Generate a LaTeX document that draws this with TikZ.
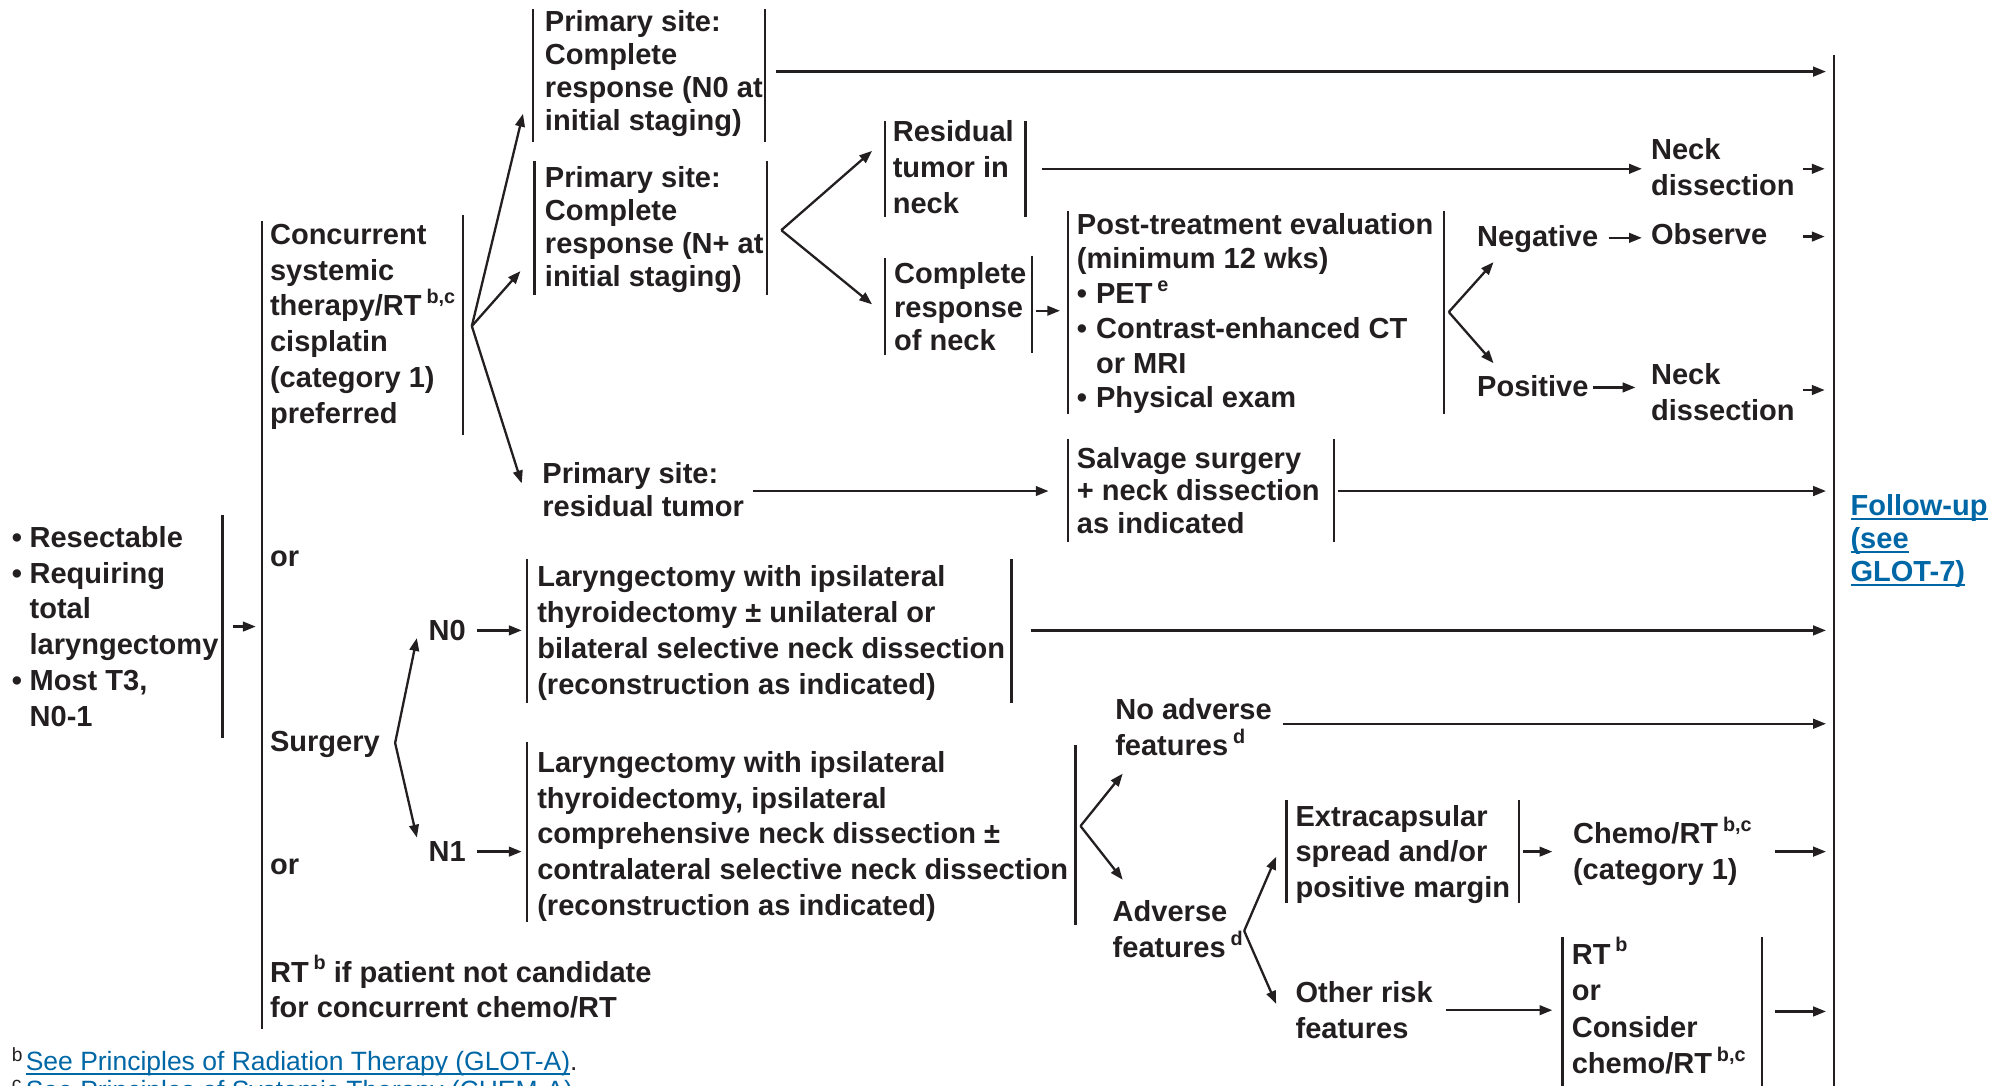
\documentclass[tikz,border=0pt]{standalone}
\usepackage{fontspec}
\setmainfont{Liberation Sans}
\usetikzlibrary{arrows.meta}
\definecolor{ink}{HTML}{231F20}
\definecolor{linkblue}{RGB}{0,103,166}
% raised footnote marks (no extra line height)
\newcommand\sups[1]{\,\raisebox{0.42em}[0pt][0pt]{\fontsize{15.5}{15.5}\selectfont #1}}
% bullet and hanging indent
\newcommand\bul{\makebox[14pt][l]{\textbullet}}
\newcommand\ind{\hspace*{14pt}}
% stacked lines, baseline on the first line
\newcommand\ml[1]{\begin{tabular}[t]{@{}l@{}}#1\end{tabular}}
% thick underline for links
\newcommand\lnkline[1]{\setbox0\hbox{#1}\rlap{\rule[-3.5pt]{\wd0}{1.6pt}}\box0}

\begin{document}
\begin{tikzpicture}[x=1pt,y=-1pt,
  txt/.style={anchor=base west, inner sep=0pt, text=ink,
    font=\fontsize{22.7}{28}\selectfont\bfseries},
  ls/.style={font=\fontsize{22.7}{#1}\selectfont\bfseries},
  lnk/.style={txt, text=linkblue},
  fnote/.style={txt, font=\fontsize{20.7}{24}\selectfont},
  bar/.style={draw=ink, line width=1.8pt},
  arr/.style={draw=ink, line width=1.8pt, -{Triangle[length=10pt,width=7.5pt]}}]
\useasboundingbox (0,0) rectangle (1568,849);

% ---------- text blocks ----------
\node[txt] (lft) at (9,428) {\ml{\bul Resectable\\\bul Requiring\\\ind total\\\ind laryngectomy\\\bul Most T3,\\\ind N0-1}};
\node[txt] (conc) at (211,191) {\ml{Concurrent\\systemic\\therapy/RT\sups{b,c}\\cisplatin\\(category 1)\\preferred}};
\node[txt] (or1) at (211,443) {or};
\node[txt] (surg) at (211,588) {Surgery};
\node[txt] (or2) at (211,684) {or};
\node[txt] (rtonly) at (211,768) {\ml{RT\sups{b} if patient not candidate\\for concurrent chemo/RT}};

\node[txt,ls=25.7] (pcr0) at (426,25) {\ml{Primary site:\\Complete\\response (N0 at\\initial staging)}};
\node[txt,ls=25.7] (pcrn) at (426,147) {\ml{Primary site:\\Complete\\response (N+ at\\initial staging)}};
\node[txt,ls=26] (pres) at (424,378) {\ml{Primary site:\\residual tumor}};

\node[txt] (rneck) at (698,111) {\ml{Residual\\tumor in\\neck}};
\node[txt,ls=26] (cneck) at (699,222) {\ml{Complete\\response\\of neck}};
\node[txt,ls=27.2] (eval) at (842,183) {\ml{Post-treatment evaluation\\(minimum 12 wks)\\\makebox[15pt][l]{\textbullet}PET\sups{e}\\\makebox[15pt][l]{\textbullet}Contrast-enhanced CT\\\hspace*{15pt}or MRI\\\makebox[15pt][l]{\textbullet}Physical exam}};
\node[txt,ls=25.5] (salv) at (842,366) {\ml{Salvage surgery\\+ neck dissection\\as indicated}};

\node[txt] (nd1) at (1291,125) {\ml{Neck\\dissection}};
\node[txt] (neg) at (1155,193) {Negative};
\node[txt] (obs) at (1291,191) {Observe};
\node[txt] (pos) at (1155,310) {Positive};
\node[txt] (nd2) at (1291,301) {\ml{Neck\\dissection}};

\node[txt] (n0) at (335,501) {N0};
\node[txt] (n1) at (335,674) {N1};
\node[txt] (lar0) at (420,459) {\ml{Laryngectomy with ipsilateral\\thyroidectomy \textpm{} unilateral or\\bilateral selective neck dissection\\(reconstruction as indicated)}};
\node[txt] (lar1) at (420,604) {\ml{Laryngectomy with ipsilateral\\thyroidectomy, ipsilateral\\comprehensive neck dissection \textpm\\contralateral selective neck dissection\\(reconstruction as indicated)}};

\node[txt] (noadv) at (872,563) {\ml{No adverse\\features\sups{d}}};
\node[txt] (adv) at (870,721) {\ml{Adverse\\features\sups{d}}};
\node[txt] (ece) at (1013,646) {\ml{Extracapsular\\spread and/or\\positive margin}};
\node[txt] (crt) at (1230,660) {\ml{Chemo/RT\sups{b,c}\\(category 1)}};
\node[txt] (orf) at (1013,784) {\ml{Other risk\\features}};
\node[txt,ls=28.5] (rtopt) at (1229,754) {\ml{RT\sups{b}\\or\\Consider\\chemo/RT\sups{b,c}}};

\node[lnk,ls=26] (fu) at (1447,403) {\ml{\lnkline{Follow-up}\\\lnkline{(see}\\\lnkline{GLOT-7)}}};

% footnotes
\node[fnote] (fnb) at (9,837)
  {\makebox[11pt][l]{\raisebox{7pt}{\fontsize{15}{15}\selectfont b}}\textcolor{linkblue}{\lnkline{See Principles of Radiation Therapy (GLOT-A)}}.};
\node[fnote] (fnc) at (9,860)
  {\makebox[11pt][l]{\raisebox{7pt}{\fontsize{15}{15}\selectfont c}}\textcolor{linkblue}{\lnkline{See Principles of Systemic Therapy (CHEM-A)}}.};

% ---------- bracket bars ----------
\draw[bar] (174,403) -- (174,577);
\draw[bar] (205,173) -- (205,805);
\draw[bar] (362,168) -- (362,340);
\draw[bar] (417,7) -- (417,111)  (598,7) -- (598,111);
\draw[bar] (418,126) -- (418,231)  (600,126) -- (600,231);
\draw[bar] (692,95) -- (692,170)  (802,95) -- (802,170);
\draw[bar] (692,202) -- (692,278)  (807,200) -- (807,276);
\draw[bar] (835,165) -- (835,324)  (1129,165) -- (1129,324);
\draw[bar] (835,343) -- (835,424)  (1043,343) -- (1043,424);
\draw[bar] (412,437) -- (412,550)  (791,437) -- (791,550);
\draw[bar] (412,580) -- (412,721)  (841,583) -- (841,723);
\draw[bar] (1006,626) -- (1006,706)  (1188,626) -- (1188,706);
\draw[bar] (1222,733) -- (1222,852)  (1378,733) -- (1378,852);
\draw[bar] (1434,43) -- (1434,852);

% ---------- connector end points ----------
\coordinate (lftO) at (182,490);   \coordinate (lftI) at (200,490);
\coordinate (cF) at (369,255);
\coordinate (cT0) at (409,89);  \coordinate (cT1) at (407,212);  \coordinate (cT2) at (408,378);
\coordinate (p0O) at (607,56);   \coordinate (p0I) at (1428,56);
\coordinate (pnF) at (611,180);
\coordinate (pnT0) at (682,118); \coordinate (pnT1) at (682,238);
\coordinate (rnO) at (815,132);  \coordinate (rnI) at (1284,132);
\coordinate (nd1O) at (1410,132); \coordinate (nd1I) at (1427,132);
\coordinate (cnO) at (810,243);  \coordinate (cnI) at (829,243);
\coordinate (evF) at (1133,244);
\coordinate (evT0) at (1168,205); \coordinate (evT1) at (1168,284);
\coordinate (negO) at (1258,186); \coordinate (negI) at (1284,186);
\coordinate (obsO) at (1410,185); \coordinate (obsI) at (1427,185);
\coordinate (posO) at (1246,303); \coordinate (posI) at (1279,303);
\coordinate (nd2O) at (1410,305); \coordinate (nd2I) at (1427,305);
\coordinate (prO) at (589,384);  \coordinate (prI) at (820,384);
\coordinate (svO) at (1046,384); \coordinate (svI) at (1428,384);
\coordinate (sF) at (309,581);
\coordinate (sT0) at (326,499);  \coordinate (sT1) at (326,655);
\coordinate (n0O) at (373,493);  \coordinate (n0I) at (408,493);
\coordinate (n1O) at (373,666);  \coordinate (n1I) at (408,666);
\coordinate (l0O) at (806,493);  \coordinate (l0I) at (1428,493);
\coordinate (l1F) at (845,646);
\coordinate (l1T0) at (878,605); \coordinate (l1T1) at (878,688);
\coordinate (naO) at (1003,566); \coordinate (naI) at (1428,566);
\coordinate (aF) at (973,728);
\coordinate (aT0) at (998,670);  \coordinate (aT1) at (998,785);
\coordinate (ecO) at (1191,666); \coordinate (ecI) at (1214,666);
\coordinate (crO) at (1388,666); \coordinate (crI) at (1428,666);
\coordinate (orO) at (1131,790); \coordinate (orI) at (1214,790);
\coordinate (rtO) at (1388,791); \coordinate (rtI) at (1428,791);

% ---------- connectors ----------
\draw[arr] (lftO) -- (lftI);
\draw[arr] (cF) -- (cT0);
\draw[arr] (cF) -- (cT1);
\draw[arr] (cF) -- (cT2);
\draw[arr] (p0O) -- (p0I);
\draw[arr] (pnF) -- (pnT0);
\draw[arr] (pnF) -- (pnT1);
\draw[arr] (rnO) -- (rnI);
\draw[arr] (nd1O) -- (nd1I);
\draw[arr] (cnO) -- (cnI);
\draw[arr] (evF) -- (evT0);
\draw[arr] (evF) -- (evT1);
\draw[arr] (negO) -- (negI);
\draw[arr] (obsO) -- (obsI);
\draw[arr] (posO) -- (posI);
\draw[arr] (nd2O) -- (nd2I);
\draw[arr] (prO) -- (prI);
\draw[arr] (svO) -- (svI);
\draw[arr] (sF) -- (sT0);
\draw[arr] (sF) -- (sT1);
\draw[arr] (n0O) -- (n0I);
\draw[arr] (n1O) -- (n1I);
\draw[arr] (l0O) -- (l0I);
\draw[arr] (l1F) -- (l1T0);
\draw[arr] (l1F) -- (l1T1);
\draw[arr] (naO) -- (naI);
\draw[arr] (aF) -- (aT0);
\draw[arr] (aF) -- (aT1);
\draw[arr] (ecO) -- (ecI);
\draw[arr] (crO) -- (crI);
\draw[arr] (orO) -- (orI);
\draw[arr] (rtO) -- (rtI);
\end{tikzpicture}
\end{document}
